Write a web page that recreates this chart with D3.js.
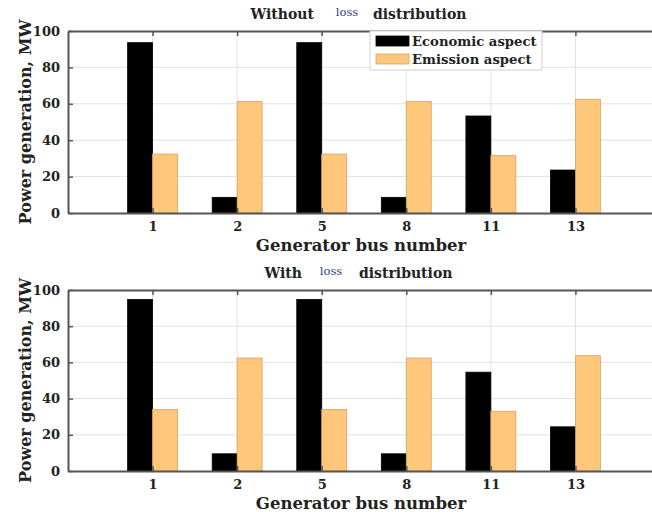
<!DOCTYPE html>
<html><head><meta charset="utf-8">
<script src="https://cdn.jsdelivr.net/npm/d3@7"></script>
<style>body{margin:0;background:#fff}svg{display:block}</style>
</head><body>
<svg id="c" width="652" height="512"></svg>
<script>
const categories = ["1","2","5","8","11","13"];
const yTicks = [0,20,40,60,80,100];
const seriesNames = ["Economic aspect","Emission aspect"];
const withoutLossEconomic = [93.6, 8.6, 93.6, 8.6, 53.3, 23.6];
const withoutLossEmission = [32.4, 61.2, 32.4, 61.2, 31.5, 62.5];
const withLossEconomic = [94.8, 9.5, 94.8, 9.5, 54.6, 24.4];
const withLossEmission = [34.0, 62.4, 34.0, 62.4, 33.0, 63.7];
const titles = [["Without","loss","distribution"],["With","loss","distribution"]];

const colors = ["#000000","#fec77c"];
const strokes = ["#000000","#d9a35c"];
const svg = d3.select("#c");
const FONT = "DejaVu Serif";

function panel(top, bottom, econ, emis, title, titlePos, showLegend){
  const x = d3.scalePoint().domain(categories).range([68,660]).padding(1);
  const y = d3.scaleLinear().domain([0,100]).range([bottom, top]);
  const g = svg.append("g");
  const step = x.step(), bw = step*0.295;
  // grid
  g.selectAll(".gy").data(yTicks.slice(1,-1)).join("line")
    .attr("x1",68).attr("x2",660).attr("y1",d=>y(d)).attr("y2",d=>y(d))
    .attr("stroke","#e2e2e2").attr("stroke-width",1);
  g.selectAll(".gx").data(categories).join("line")
    .attr("x1",d=>x(d)).attr("x2",d=>x(d)).attr("y1",top).attr("y2",bottom)
    .attr("stroke","#e2e2e2").attr("stroke-width",1);
  // bars
  const data = categories.map((c,i)=>({c, v:[econ[i],emis[i]]}));
  [0,1].forEach(s=>{
    g.selectAll(".b"+s).data(data).join("rect")
      .attr("x",d=>s===0 ? x(d.c)-bw : x(d.c))
      .attr("width",bw)
      .attr("y",d=>y(d.v[s]))
      .attr("height",d=>y(0)-y(d.v[s]))
      .attr("fill",colors[s]).attr("stroke",strokes[s]).attr("stroke-width",0.8);
  });
  // axes
  const ax = d3.axisLeft(y).tickValues(yTicks).tickSizeInner(-5).tickSizeOuter(0).tickPadding(8);
  const ga = g.append("g").attr("transform","translate(68,0)").call(ax);
  ga.select(".domain").attr("stroke","#555").attr("stroke-width",2);
  ga.selectAll(".tick line").attr("stroke","#555").attr("stroke-width",1.5);
  ga.selectAll("text").attr("font-family",FONT).attr("font-weight","bold").attr("font-size",13).attr("fill","#222");
  const bx = d3.axisBottom(x).tickSizeInner(-5).tickSizeOuter(0).tickPadding(9);
  const gb = g.append("g").attr("transform",`translate(0,${bottom})`).call(bx);
  gb.select(".domain").attr("stroke","#555").attr("stroke-width",2);
  gb.selectAll(".tick line").attr("stroke","#555").attr("stroke-width",1.5);
  gb.selectAll("text").attr("font-family",FONT).attr("font-weight","bold").attr("font-size",13).attr("fill","#222");
  const tx = d3.axisTop(x).tickSizeInner(-5).tickSizeOuter(0).tickFormat("");
  const gt = g.append("g").attr("transform",`translate(0,${top})`).call(tx);
  gt.select(".domain").attr("stroke","#555").attr("stroke-width",2);
  gt.selectAll(".tick line").attr("stroke","#555").attr("stroke-width",1.5);
  // title pieces
  g.append("text").attr("x",titlePos[0]).attr("y",top-12).attr("text-anchor","end")
    .attr("font-family",FONT).attr("font-weight","bold").attr("font-size",14).attr("fill","#222").text(title[0]);
  g.append("text").attr("x",titlePos[1]).attr("y",top-15).attr("text-anchor","middle")
    .attr("font-family",FONT).attr("font-size",11.5).attr("fill","#1f3f8a").text(title[1]);
  g.append("text").attr("x",titlePos[2]).attr("y",top-12).attr("text-anchor","start")
    .attr("font-family",FONT).attr("font-weight","bold").attr("font-size",14).attr("fill","#222").text(title[2]);
  g.append("text").attr("x",361).attr("y",bottom+38).attr("text-anchor","middle")
    .attr("font-family",FONT).attr("font-weight","bold").attr("font-size",16.5).attr("fill","#222")
    .text("Generator bus number");
  g.append("text").attr("transform",`translate(25,${(top+bottom)/2}) rotate(-90)`)
    .attr("text-anchor","middle").attr("dy","0.35em")
    .attr("font-family",FONT).attr("font-weight","bold").attr("font-size",16).attr("fill","#222")
    .text("Power generation, MW");
  if(showLegend){
    const lg = g.append("g");
    lg.append("rect").attr("x",370).attr("y",top).attr("width",172).attr("height",39)
      .attr("fill","#fff").attr("stroke","#cfcfcf").attr("stroke-width",1);
    seriesNames.forEach((n,i)=>{
      lg.append("rect").attr("x",376).attr("y",top+5+i*18).attr("width",33).attr("height",10)
        .attr("fill",colors[i]).attr("stroke",strokes[i]).attr("stroke-width",0.8);
      lg.append("text").attr("x",412).attr("y",top+15+i*18)
        .attr("font-family",FONT).attr("font-weight","bold").attr("font-size",13.2).attr("fill","#222").text(n);
    });
  }
}
panel(31, 213, withoutLossEconomic, withoutLossEmission, titles[0], [314,347,373], true);
panel(290, 471, withLossEconomic, withLossEmission, titles[1], [302,331,359], false);
</script>
</body></html>
